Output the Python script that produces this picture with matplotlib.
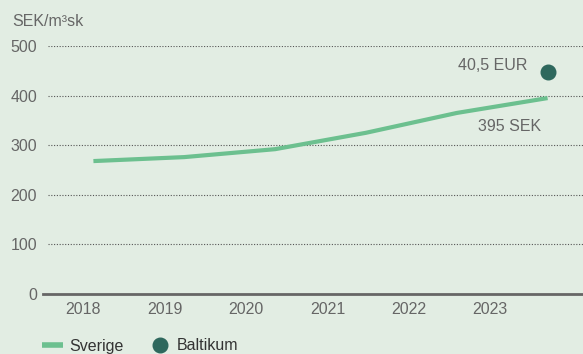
import numpy as np
import matplotlib.pyplot as plt
from matplotlib.lines import Line2D

plt.rcParams['font.family'] = ['Liberation Sans', 'DejaVu Sans']

years = ['2018', '2019', '2020', '2021', '2022', '2023']
sverige = [268, 276, 292, 325, 365, 395]
baltikum_year = 5
baltikum = 448
y_ticks = [0, 100, 200, 300, 400, 500]

bg = '#e2ede3'
green = '#6cc08f'
dark = '#2e685d'
grey = '#666666'

fig = plt.figure(figsize=(5.83, 3.54), dpi=100, facecolor=bg)
ax = fig.add_axes([48 / 583, 1 - 294 / 354, 535 / 583, 248 / 354])
ax.set_facecolor(bg)

x = np.arange(len(years))
ax.plot(x, sverige, color=green, lw=3, solid_capstyle='butt', zorder=3)
ax.plot([baltikum_year], [baltikum], 'o', color=dark, ms=10.5, zorder=4, clip_on=False)

ax.text(baltikum_year - 0.6, baltikum + 12, '40,5 EUR', ha='center', va='center',
        fontsize=11.5, color=grey)
ax.text(baltikum_year - 0.42, sverige[-1] - 57, '395 SEK', ha='center', va='center',
        fontsize=11.5, color=grey)

ax.set_xlim(-0.5, 5.39)
ax.set_ylim(0, 500)

for v in y_ticks[1:]:
    ax.axhline(v, color='#555555', lw=0.8, ls=(0, (1, 1.5)), zorder=1)
ax.axhline(0, xmin=-0.01, xmax=1, color=grey, lw=2, zorder=2, clip_on=False)

for s in ax.spines.values():
    s.set_visible(False)

ax.set_yticks(y_ticks)
ax.set_yticklabels([str(v) for v in y_ticks])
ax.tick_params(axis='y', length=0, pad=8, labelsize=11.5, labelcolor=grey)

ax.set_xticks(np.linspace(-0.11, 4.37, len(years)))
ax.set_xticklabels(years)
ax.tick_params(axis='x', length=0, pad=6, labelsize=11.5, labelcolor=grey)

fig.text(12 / 583, 1 - 22 / 354, 'SEK/m³sk', ha='left', va='center', fontsize=11.5, color=grey)

handles = [
    Line2D([], [], color=green, lw=4, solid_capstyle='butt'),
    Line2D([], [], marker='o', color=dark, ls='none', ms=10.5),
]
fig.legend(handles, ['Sverige', 'Baltikum'], loc='center left',
           bbox_to_anchor=(28 / 583, 1 - 346 / 354), ncol=2, frameon=False,
           fontsize=11.5, handlelength=1.3, handletextpad=0.4, columnspacing=1.6,
           labelcolor='#333333')

fig.savefig('out.png', dpi=100, facecolor=bg)
